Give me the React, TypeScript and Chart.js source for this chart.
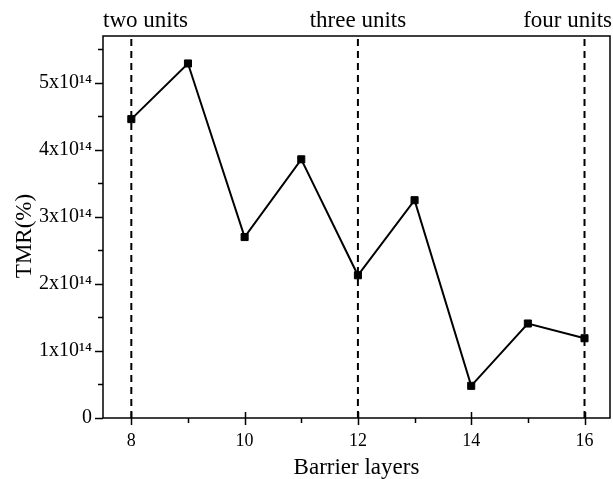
import React, { useEffect, useRef } from 'react';
import { Chart, registerables } from 'chart.js';

Chart.register(...registerables);

const LAYERS = [8, 9, 10, 11, 12, 13, 14, 15, 16];
const TMR = [4.46e14, 5.29e14, 2.7e14, 3.86e14, 2.13e14, 3.25e14, 0.48e14, 1.41e14, 1.19e14];

const X_MIN = 7.5;
const X_MAX = 16.45;
const Y_MIN = 0;
const Y_MAX = 5.7e14;

const X_TICKS = [8, 10, 12, 14, 16];
const X_MINOR = [9, 11, 13, 15];
const Y_TICKS = [0, 1e14, 2e14, 3e14, 4e14, 5e14];
const Y_TICK_LABELS = ['0', '1x10¹⁴', '2x10¹⁴', '3x10¹⁴', '4x10¹⁴', '5x10¹⁴'];
const Y_MINOR = [0.5e14, 1.5e14, 2.5e14, 3.5e14, 4.5e14, 5.5e14];

const UNIT_POSITIONS = [8, 12, 16];
const UNIT_LABELS = ['two units', 'three units', 'four units'];

const X_TITLE = 'Barrier layers';
const Y_TITLE = 'TMR(%)';

const FONT = '"Liberation Serif", "Times New Roman", serif';

const framePlugin = {
  id: 'frameAndTicks',
  afterDraw(chart: any) {
    const { ctx, chartArea, scales } = chart;
    const { left, right, top, bottom } = chartArea;
    const xs = scales.x;
    const ys = scales.y;
    ctx.save();
    ctx.strokeStyle = '#000';
    ctx.lineWidth = 1.5;
    ctx.strokeRect(left, top, right - left, bottom - top);

    ctx.beginPath();
    X_TICKS.forEach((v) => {
      const px = Math.round(xs.getPixelForValue(v)) + 0.5;
      ctx.moveTo(px, bottom - 6);
      ctx.lineTo(px, bottom + 7);
    });
    X_MINOR.forEach((v) => {
      const px = Math.round(xs.getPixelForValue(v)) + 0.5;
      ctx.moveTo(px, bottom);
      ctx.lineTo(px, bottom + 5);
    });
    Y_TICKS.forEach((v) => {
      const py = Math.round(ys.getPixelForValue(v)) + 0.5;
      ctx.moveTo(left - 8, py);
      ctx.lineTo(left, py);
    });
    Y_MINOR.forEach((v) => {
      const py = Math.round(ys.getPixelForValue(v)) + 0.5;
      ctx.moveTo(left - 5, py);
      ctx.lineTo(left, py);
    });
    ctx.stroke();

    ctx.fillStyle = '#000';
    ctx.font = `23px ${FONT}`;
    ctx.textAlign = 'center';
    ctx.textBaseline = 'alphabetic';
    UNIT_POSITIONS.forEach((v, i) => {
      const label = UNIT_LABELS[i];
      const w = ctx.measureText(label).width;
      const px = xs.getPixelForValue(v);
      const cx = Math.max(left + w / 2, Math.min(px, chart.width - 1 - w / 2));
      ctx.fillText(label, cx, 27);
    });

    ctx.translate(31, 236);
    ctx.rotate(-Math.PI / 2);
    ctx.textAlign = 'center';
    ctx.textBaseline = 'alphabetic';
    ctx.fillText(Y_TITLE, 0, 0);
    ctx.restore();
  },
};

export default function App() {
  const ref = useRef<HTMLCanvasElement | null>(null);

  useEffect(() => {
    if (!ref.current) return;
    const dashed = UNIT_POSITIONS.map((v) => ({
      data: [
        { x: v, y: Y_MIN },
        { x: v, y: Y_MAX },
      ],
      showLine: true,
      borderColor: '#000',
      borderWidth: 2,
      borderDash: [7, 5],
      pointRadius: 0,
      order: 2,
    }));
    const chart = new Chart(ref.current, {
      type: 'scatter',
      data: {
        datasets: [
          {
            data: LAYERS.map((x, i) => ({ x, y: TMR[i] })),
            showLine: true,
            borderColor: '#000',
            borderWidth: 2,
            backgroundColor: '#000',
            pointStyle: 'rect',
            pointRadius: 5,
            pointBorderWidth: 1,
            pointBackgroundColor: '#000',
            pointBorderColor: '#000',
            order: 1,
          },
          ...dashed,
        ] as any,
      },
      options: {
        responsive: false,
        animation: false,
        layout: { autoPadding: false, padding: { top: 36, right: 3, left: 0, bottom: 0 } },
        plugins: {
          legend: { display: false },
          tooltip: { enabled: false },
        },
        scales: {
          x: {
            type: 'linear',
            min: X_MIN,
            max: X_MAX,
            grid: { display: false, drawTicks: false, tickLength: 0 },
            border: { display: false },
            afterBuildTicks: (scale: any) => {
              scale.ticks = X_TICKS.map((value) => ({ value }));
            },
            afterFit: (scale: any) => {
              scale.height = 61;
            },
            ticks: {
              color: '#000',
              padding: 12,
              maxRotation: 0,
              font: { family: FONT, size: 18 },
              callback: (v: any) => String(v),
            },
            title: {
              display: true,
              text: X_TITLE,
              color: '#000',
              font: { family: FONT, size: 23, lineHeight: 1.0 },
              padding: { top: 0, bottom: 0 },
            },
          },
          y: {
            type: 'linear',
            min: Y_MIN,
            max: Y_MAX,
            grid: { display: false, drawTicks: false, tickLength: 0 },
            border: { display: false },
            afterBuildTicks: (scale: any) => {
              scale.ticks = Y_TICKS.map((value) => ({ value }));
            },
            afterFit: (scale: any) => {
              scale.width = 103;
            },
            ticks: {
              color: '#000',
              padding: 11,
              font: { family: FONT, size: 20 },
              callback: (v: any) => {
                const idx = Y_TICKS.indexOf(Number(v));
                return idx >= 0 ? Y_TICK_LABELS[idx] : '';
              },
            },
            title: { display: false },
          },
        },
      },
      plugins: [framePlugin],
    });
    return () => chart.destroy();
  }, []);

  return (
    <div style={{ position: 'absolute', left: 0, top: 0, width: 613, height: 479, background: '#fff' }}>
      <canvas ref={ref} width={613} height={479} />
    </div>
  );
}
